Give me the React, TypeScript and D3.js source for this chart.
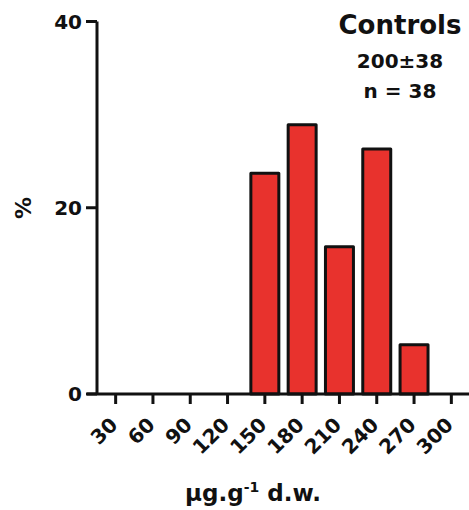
import React from "react";
import * as d3 from "d3";

const categories = ["30", "60", "90", "120", "150", "180", "210", "240", "270", "300"];
const percentValues = [0, 0, 0, 0, 23.7, 28.9, 15.8, 26.3, 5.3, 0];
const yTicks = [0, 20, 40];
const titleLines = ["Controls", "200±38", "n = 38"];

const W = 469;
const H = 510;
const FONT = "'DejaVu Sans', sans-serif";

export default function App() {
  const x = d3
    .scaleBand<string>()
    .domain(categories)
    .range([97, 470])
    .paddingInner(0.25)
    .paddingOuter(0.125);
  const y = d3.scaleLinear().domain([0, 40]).range([394, 21.5]);

  return (
    <svg
      width={W}
      height={H}
      style={{ position: "absolute", left: 0, top: 0 }}
      fontFamily={FONT}
      fontWeight="bold"
    >
      <rect x={0} y={0} width={W} height={H} fill="#fff" />
      {/* bars */}
      {categories.map((c, i) =>
        percentValues[i] > 0 ? (
          <rect
            key={c}
            x={x(c)!}
            y={y(percentValues[i])}
            width={x.bandwidth()}
            height={y(0) - y(percentValues[i])}
            fill="#e8322d"
            stroke="#111"
            strokeWidth={3}
            strokeLinejoin="round"
          />
        ) : null
      )}
      {/* y axis */}
      <line x1={97} x2={97} y1={y(40)} y2={y(0)} stroke="#111" strokeWidth={3} />
      {yTicks.map((t) => (
        <g key={t}>
          <line x1={86} x2={97} y1={y(t)} y2={y(t)} stroke="#111" strokeWidth={3} />
          <text x={82} y={y(t)} dy="0.36em" textAnchor="end" fontSize={20} fill="#111">
            {t}
          </text>
        </g>
      ))}
      {/* x axis */}
      <line x1={87} x2={469} y1={y(0)} y2={y(0)} stroke="#111" strokeWidth={3} />
      {categories.map((c) => {
        const cx = x(c)! + x.bandwidth() / 2;
        return (
          <g key={c}>
            <line x1={cx} x2={cx} y1={y(0)} y2={y(0) + 10} stroke="#111" strokeWidth={3} />
            <text
              transform={`translate(${cx - 2},${421}) rotate(-45)`}
              dy="0.36em"
              textAnchor="end"
              fontSize={20}
              fill="#111"
            >
              {c}
            </text>
          </g>
        );
      })}
      {/* y label */}
      <text
        transform="translate(23,208) rotate(-90)"
        dy="0.36em"
        textAnchor="middle"
        fontSize={22}
        fill="#111"
      >
        %
      </text>
      {/* x label */}
      <text x={253} y={501} textAnchor="middle" fontSize={23} fill="#111">
        μg.g
        <tspan fontSize={14} dy={-9}>-1</tspan>
        <tspan dy={9}> d.w.</tspan>
      </text>
      {/* annotation */}
      <text x={400} y={34} textAnchor="middle" fontSize={26} fill="#111">
        {titleLines[0]}
      </text>
      <text x={400} y={68} textAnchor="middle" fontSize={20} fill="#111">
        {titleLines[1]}
      </text>
      <text x={400} y={98} textAnchor="middle" fontSize={20} fill="#111">
        {titleLines[2]}
      </text>
    </svg>
  );
}
